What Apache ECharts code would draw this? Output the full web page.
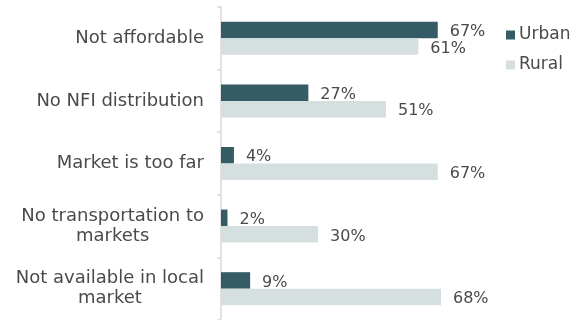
<!DOCTYPE html>
<html>
<head>
<meta charset="utf-8">
<title>Barriers to accessing NFI</title>
<script src="https://cdn.jsdelivr.net/npm/echarts@6/dist/echarts.min.js"></script>
<style>
  html, body { margin: 0; padding: 0; background: #ffffff; }
  #chart { width: 586px; height: 320px; }
</style>
</head>
<body>
<div id="chart"></div>
<script>
// Reasons given, top to bottom
const categories = [
  'Not affordable',
  'No NFI distribution',
  'Market is too far',
  'No transportation to\nmarkets',
  'Not available in local\nmarket'
];
const seriesNames = ['Urban', 'Rural'];
// Share of households citing each reason (%)
const urbanValues = [67, 27, 4, 2, 9];
const ruralValues = [61, 51, 67, 30, 68];

const FONT = '"DejaVu Sans", sans-serif';
const TEXT = '#4a4a4a';

const chart = echarts.init(document.getElementById('chart'), null, { renderer: 'canvas' });

// Multi-line category names: lines centred within a right-aligned block
function categoryLabel(value) {
  return value.split('\n').map(function (line) { return '{c|' + line + '}'; }).join('\n');
}

const valueLabel = {
  show: true,
  position: 'right',
  distance: 12,
  offset: [0, 2],
  formatter: '{c}%',
  color: TEXT,
  fontFamily: FONT,
  fontSize: 16
};

chart.setOption({
  animation: false,
  backgroundColor: '#ffffff',
  textStyle: { fontFamily: FONT },
  legend: {
    orient: 'vertical',
    left: 506,
    top: 25,
    padding: 0,
    itemWidth: 9,
    itemHeight: 9,
    itemGap: 10,
    icon: 'rect',
    data: seriesNames,
    textStyle: { color: TEXT, fontFamily: FONT, fontSize: 17, lineHeight: 20, padding: [0, 0, 0, -1] }
  },
  grid: { left: 221, top: 7, right: 41.5, bottom: -4 },
  xAxis: {
    type: 'value',
    min: 0,
    max: 100,
    show: false,
    splitLine: { show: false }
  },
  yAxis: {
    type: 'category',
    inverse: true,
    data: categories,
    axisLine: { show: true, lineStyle: { color: '#d9d9d9', width: 1.5 } },
    axisTick: { show: true, length: 4, lineStyle: { color: '#d9d9d9', width: 1.5 } },
    axisLabel: {
      margin: 17,
      color: TEXT,
      fontFamily: FONT,
      fontSize: 18,
      lineHeight: 20,
      formatter: categoryLabel,
      rich: {
        c: { align: 'center', color: TEXT, fontFamily: FONT, fontSize: 18, lineHeight: 20 }
      }
    }
  },
  series: [
    {
      name: seriesNames[0],
      type: 'bar',
      data: urbanValues,
      barWidth: 16.5,
      barGap: '0%',
      itemStyle: { color: '#355b64' },
      label: valueLabel
    },
    {
      name: seriesNames[1],
      type: 'bar',
      data: ruralValues,
      barWidth: 16.5,
      barGap: '0%',
      itemStyle: { color: '#d6dfe0' },
      label: valueLabel
    }
  ]
});
</script>
</body>
</html>
